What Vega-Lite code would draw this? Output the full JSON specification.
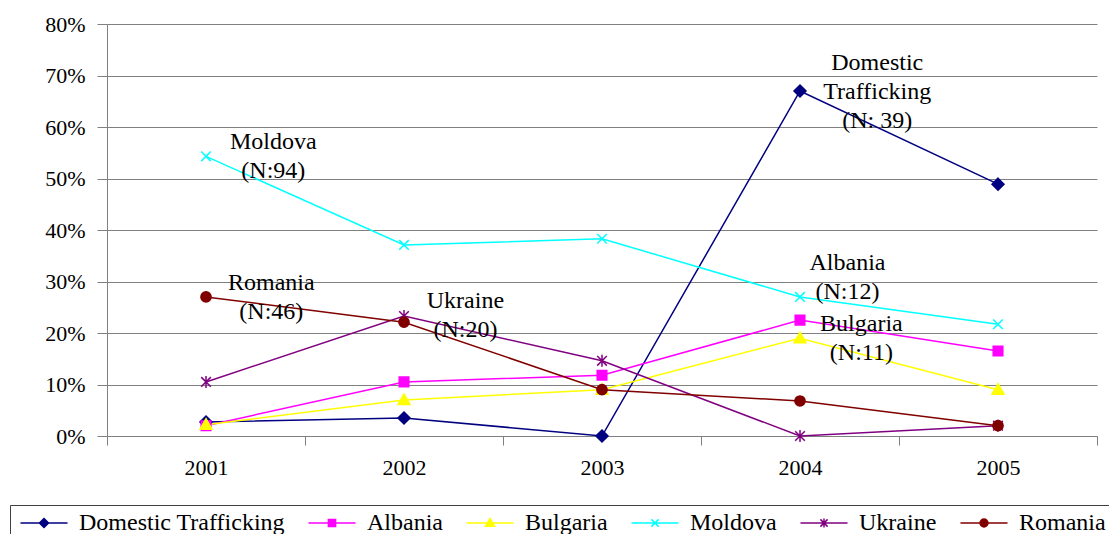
{
  "$schema": "https://vega.github.io/schema/vega-lite/v6.json",
  "width": 990,
  "height": 412,
  "autosize": {"type": "none"},
  "padding": {"left": 107, "top": 24, "right": 12, "bottom": 98},
  "background": "white",
  "config": {
    "view": {"stroke": null},
    "font": "Liberation Serif",
    "axis": {"labelFont": "Liberation Serif", "labelFontSize": 22, "labelColor": "black"},
    "legend": {"labelFont": "Liberation Serif"}
  },
  "datasets": {
    "series": [
      {"year": "2001", "series": "Domestic Trafficking", "value": 2.7},
      {"year": "2002", "series": "Domestic Trafficking", "value": 3.5},
      {"year": "2003", "series": "Domestic Trafficking", "value": 0},
      {"year": "2004", "series": "Domestic Trafficking", "value": 67},
      {"year": "2005", "series": "Domestic Trafficking", "value": 48.9},
      {"year": "2001", "series": "Albania", "value": 2},
      {"year": "2002", "series": "Albania", "value": 10.5},
      {"year": "2003", "series": "Albania", "value": 11.8},
      {"year": "2004", "series": "Albania", "value": 22.5},
      {"year": "2005", "series": "Albania", "value": 16.5},
      {"year": "2001", "series": "Bulgaria", "value": 2.2},
      {"year": "2002", "series": "Bulgaria", "value": 7},
      {"year": "2003", "series": "Bulgaria", "value": 9},
      {"year": "2004", "series": "Bulgaria", "value": 19},
      {"year": "2005", "series": "Bulgaria", "value": 9},
      {"year": "2001", "series": "Moldova", "value": 54.3},
      {"year": "2002", "series": "Moldova", "value": 37.1},
      {"year": "2003", "series": "Moldova", "value": 38.3},
      {"year": "2004", "series": "Moldova", "value": 27},
      {"year": "2005", "series": "Moldova", "value": 21.7},
      {"year": "2001", "series": "Ukraine", "value": 10.5},
      {"year": "2002", "series": "Ukraine", "value": 23.3},
      {"year": "2003", "series": "Ukraine", "value": 14.6},
      {"year": "2004", "series": "Ukraine", "value": 0},
      {"year": "2005", "series": "Ukraine", "value": 2},
      {"year": "2001", "series": "Romania", "value": 27},
      {"year": "2002", "series": "Romania", "value": 22.1},
      {"year": "2003", "series": "Romania", "value": 9},
      {"year": "2004", "series": "Romania", "value": 6.8},
      {"year": "2005", "series": "Romania", "value": 2}
    ],
    "notes": [
      {"x": 2004.39, "value": 72.4, "label": "Domestic\nTrafficking\n(N: 39)"},
      {"x": 2001.34, "value": 57.1, "label": "Moldova\n(N:94)"},
      {"x": 2001.33, "value": 29.7, "label": "Romania\n(N:46)"},
      {"x": 2002.31, "value": 26.2, "label": "Ukraine\n(N:20)"},
      {"x": 2004.24, "value": 33.6, "label": "Albania\n(N:12)"},
      {"x": 2004.31, "value": 21.7, "label": "Bulgaria\n(N:11)"}
    ]
  },
  "layer": [
    {
      "data": {"name": "series"},
      "mark": {"type": "line", "strokeWidth": 1.5},
      "encoding": {
        "x": {
          "field": "year", "type": "ordinal", "bandPosition": 0.5,
          "scale": {"type": "band", "paddingInner": 0, "paddingOuter": 0},
          "axis": {
            "title": null, "labelAngle": 0, "tickBand": "extent", "grid": false,
            "domainColor": "#808080", "tickColor": "#808080", "tickSize": 9,
            "labelPadding": 12, "labelFont": "Liberation Serif", "labelFontSize": 22,
            "labelColor": "black"
          }
        },
        "y": {
          "field": "value", "type": "quantitative",
          "scale": {"domain": [0, 80], "nice": false},
          "axis": {
            "title": null, "values": [0, 10, 20, 30, 40, 50, 60, 70, 80],
            "labelExpr": "datum.value + '%'", "grid": true, "gridColor": "#808080",
            "gridWidth": 1, "domainColor": "#808080", "tickColor": "#808080",
            "tickSize": 10, "labelPadding": 12, "labelFont": "Liberation Serif",
            "labelFontSize": 22, "labelColor": "black"
          }
        },
        "stroke": {
          "field": "series", "type": "nominal", "legend": null,
          "scale": {
            "domain": ["Domestic Trafficking", "Albania", "Bulgaria", "Moldova", "Ukraine", "Romania"],
            "range": ["#000080", "#FF00FF", "#FFFF00", "#00FFFF", "#800080", "#800000"]
          }
        }
      }
    },
    {
      "data": {"name": "series"},
      "mark": {"type": "point", "filled": true, "opacity": 1, "size": 144, "strokeWidth": 1.5},
      "encoding": {
        "x": {
          "field": "year", "type": "ordinal", "bandPosition": 0.5,
          "scale": {"type": "band", "paddingInner": 0, "paddingOuter": 0},
          "axis": null
        },
        "y": {"field": "value", "type": "quantitative"},
        "fill": {
          "field": "series", "type": "nominal", "legend": null,
          "scale": {
            "domain": ["Domestic Trafficking", "Albania", "Bulgaria", "Moldova", "Ukraine", "Romania"],
            "range": ["#000080", "#FF00FF", "#FFFF00", "#00FFFF", "#800080", "#800000"]
          }
        },
        "stroke": {
          "field": "series", "type": "nominal", "legend": null,
          "scale": {
            "domain": ["Domestic Trafficking", "Albania", "Bulgaria", "Moldova", "Ukraine", "Romania"],
            "range": ["#000080", "#FF00FF", "#FFFF00", "#00FFFF", "#800080", "#800000"]
          }
        },
        "shape": {
          "field": "series", "type": "nominal", "legend": null,
          "scale": {
            "domain": ["Domestic Trafficking", "Albania", "Bulgaria", "Moldova", "Ukraine", "Romania"],
            "range": [
              "M0,-1L1,0L0,1L-1,0Z",
              "M-0.8,-0.8H0.8V0.8H-0.8Z",
              "M0,-1L1,0.75H-1Z",
              "M-0.8,-0.8L0.8,0.8M-0.8,0.8L0.8,-0.8",
              "M-0.8,-0.8L0.8,0.8M-0.8,0.8L0.8,-0.8M0,-1V1",
              "M-0.85,0A0.85,0.85 0 1,0 0.85,0A0.85,0.85 0 1,0 -0.85,0Z"
            ]
          }
        }
      }
    },
    {
      "data": {"name": "series"},
      "transform": [{"filter": {"field": "series", "equal": "__none__"}}],
      "mark": {"type": "point", "filled": true, "opacity": 1, "size": 576, "strokeWidth": 1.5},
      "encoding": {
        "fill": {
          "field": "series", "type": "nominal",
          "scale": {
            "domain": ["Domestic Trafficking", "Albania", "Bulgaria", "Moldova", "Ukraine", "Romania"],
            "range": ["#000080", "#FF00FF", "#FFFF00", "#00FFFF", "#800080", "#800000"]
          },
          "legend": {
            "title": null, "orient": "none", "legendX": -97, "legendY": 481,
            "direction": "horizontal", "symbolSize": 576, "symbolStrokeWidth": 1.5,
            "labelFont": "Liberation Serif", "labelFontSize": 24, "labelColor": "black",
            "labelOffset": 22, "columnPadding": 18, "padding": 5, "symbolOffset": 16,
            "strokeColor": "#404040", "fillColor": "white", "labelLimit": 400
          }
        },
        "stroke": {
          "field": "series", "type": "nominal",
          "scale": {
            "domain": ["Domestic Trafficking", "Albania", "Bulgaria", "Moldova", "Ukraine", "Romania"],
            "range": ["#000080", "#FF00FF", "#FFFF00", "#00FFFF", "#800080", "#800000"]
          },
          "legend": {
            "title": null, "orient": "none", "legendX": -97, "legendY": 481,
            "direction": "horizontal", "symbolSize": 576, "symbolStrokeWidth": 1.5,
            "labelFont": "Liberation Serif", "labelFontSize": 24, "labelColor": "black",
            "labelOffset": 22, "columnPadding": 18, "padding": 5, "symbolOffset": 16,
            "strokeColor": "#404040", "fillColor": "white", "labelLimit": 400
          }
        },
        "shape": {
          "field": "series", "type": "nominal",
          "scale": {
            "domain": ["Domestic Trafficking", "Albania", "Bulgaria", "Moldova", "Ukraine", "Romania"],
            "range": [
              "M-1.96,0H1.96M0,-0.38L0.38,0L0,0.38L-0.38,0Z",
              "M-1.96,0H1.96M-0.3,-0.3H0.3V0.3H-0.3Z",
              "M-1.96,0H1.96M0,-0.38L0.38,0.28H-0.38Z",
              "M-1.96,0H1.96M-0.3,-0.3L0.3,0.3M-0.3,0.3L0.3,-0.3",
              "M-1.96,0H1.96M-0.3,-0.3L0.3,0.3M-0.3,0.3L0.3,-0.3M0,-0.38V0.38",
              "M-1.96,0H1.96M-0.33,0A0.33,0.33 0 1,0 0.33,0A0.33,0.33 0 1,0 -0.33,0Z"
            ]
          },
          "legend": {
            "title": null, "orient": "none", "legendX": -97, "legendY": 481,
            "direction": "horizontal", "symbolSize": 576, "symbolStrokeWidth": 1.5,
            "labelFont": "Liberation Serif", "labelFontSize": 24, "labelColor": "black",
            "labelOffset": 22, "columnPadding": 18, "padding": 5, "symbolOffset": 16,
            "strokeColor": "#404040", "fillColor": "white", "labelLimit": 400
          }
        }
      }
    },
    {
      "data": {"name": "notes"},
      "mark": {
        "type": "text", "font": "Liberation Serif", "fontSize": 24, "lineHeight": 29,
        "align": "center", "baseline": "middle", "lineBreak": "\n", "color": "black"
      },
      "encoding": {
        "x": {
          "field": "x", "type": "quantitative",
          "scale": {"domain": [2000.5, 2005.5], "nice": false, "zero": false},
          "axis": null
        },
        "y": {"field": "value", "type": "quantitative"},
        "text": {"field": "label"}
      }
    }
  ],
  "resolve": {
    "scale": {"x": "independent", "fill": "independent", "stroke": "independent", "shape": "independent"}
  }
}
